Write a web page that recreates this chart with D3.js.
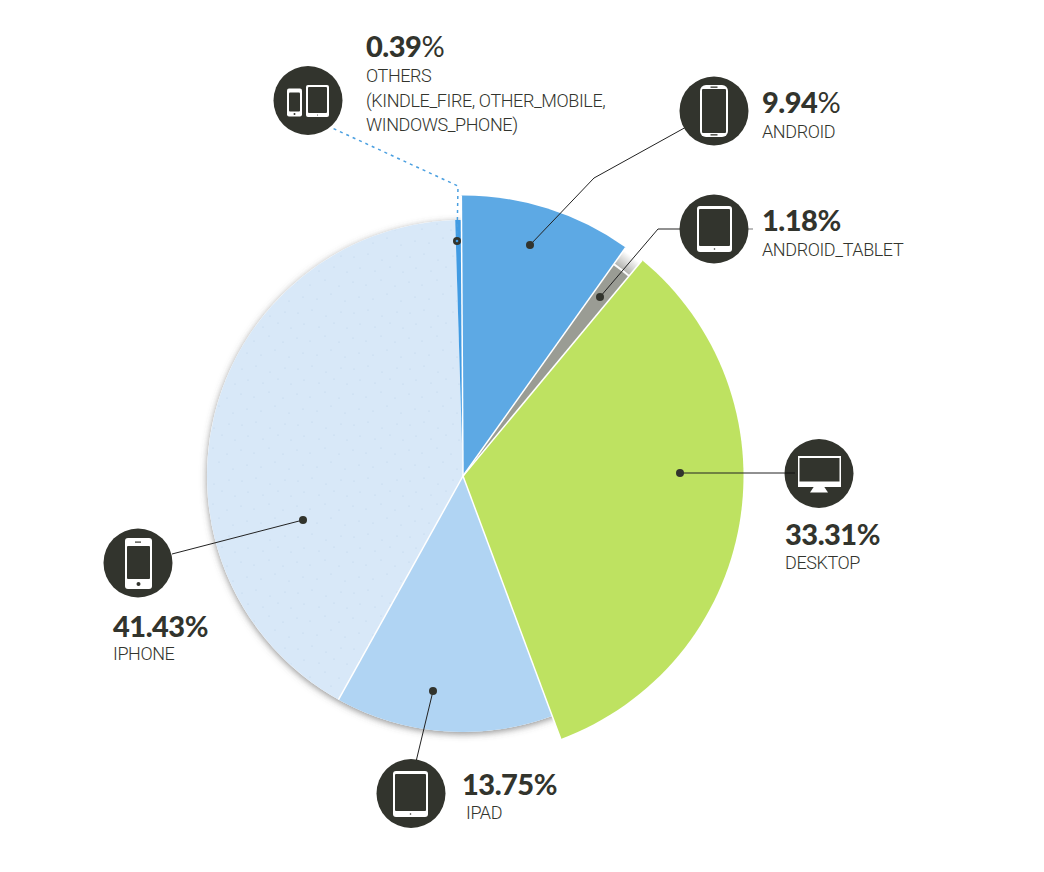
<!DOCTYPE html>
<html>
<head>
<meta charset="utf-8">
<script src="https://cdnjs.cloudflare.com/ajax/libs/d3/7.8.5/d3.min.js"></script>
<style>
  html, body { margin: 0; background: #fff; }
  svg { display: block; }
  .pct { font-family: Lato, sans-serif; font-weight: 900; font-size: 29px; fill: #32342d; letter-spacing: -0.5px; }
  .name { font-family: Roboto, sans-serif; font-weight: 300; font-size: 18px; fill: #32342d; letter-spacing: -0.4px; }
</style>
</head>
<body>
<svg id="chart"></svg>
<script>
const width = 1044, height = 872;

// Slices in drawing order, clockwise from 12 o'clock
const devices = ["ANDROID", "ANDROID_TABLET", "DESKTOP", "IPAD", "IPHONE", "OTHERS"];
const shares = [9.94, 1.18, 33.31, 13.75, 41.43, 0.39];
const pctValues = ["9.94", "1.18", "33.31", "13.75", "41.43", "0.39"];
const otherNames = ["(KINDLE_FIRE, OTHER_MOBILE,", "WINDOWS_PHONE)"];

const sliceColors = ["#5da9e4", "#9a9c94", "#bee261", "#b0d4f3", "#d8e8f8", "#419be3"];
const exploded = ["ANDROID", "DESKTOP"];
const thinPercent = ["ANDROID", "OTHERS"];

const dark = "#32342d";
const cx = 463, cy = 476;
const rBase = 256, rBig = 280.5;
const rotation = -0.006; // the pie sits a hair anticlockwise of 12 o'clock

// Callout layout: dot, elbow path, icon circle, text block
const callouts = {
  ANDROID:        { dot: [530, 245], via: [[594, 178], [697, 121]], icon: [714, 111], text: [762, 113], align: 29 },
  ANDROID_TABLET: { dot: [600, 297], via: [[658, 229], [680, 229]], icon: [714, 229], text: [762, 231], align: 29 },
  DESKTOP:        { dot: [680, 473], via: [[795, 473]],             icon: [819, 473.5], text: [785, 545], align: 28 },
  IPAD:           { dot: [433, 691], via: [[414, 770]],             icon: [411, 793.5], text: [462, 795], align: 28 },
  IPHONE:         { dot: [303, 520], via: [[172, 554]],             icon: [138, 563], text: [113, 637], align: 27 },
  OTHERS:         { dot: [457, 241], via: [[458, 186], [330, 127]], icon: [308, 100.5], text: [366, 57], align: 29 }
};

// scattered dots of the iphone texture, one tile's worth
const speckleDots = [[3, 5], [17, 2], [31, 8], [46, 4], [9, 16], [24, 19], [39, 15], [52, 20],
                     [2, 30], [15, 33], [30, 28], [44, 34], [8, 45], [22, 47], [36, 42], [50, 49]];

const svg = d3.select("#chart")
    .attr("width", width)
    .attr("height", height);

const defs = svg.append("defs");

const shadow = defs.append("filter")
    .attr("id", "soft-shadow")
    .attr("x", "-10%").attr("y", "-10%")
    .attr("width", "120%").attr("height", "120%");
shadow.append("feDropShadow")
    .attr("dx", 0).attr("dy", 2)
    .attr("stdDeviation", 3.5)
    .attr("flood-color", "#555")
    .attr("flood-opacity", 0.65);

const speckle = defs.append("pattern")
    .attr("id", "speckle")
    .attr("width", 56).attr("height", 56)
    .attr("patternUnits", "userSpaceOnUse");
speckle.selectAll("circle")
    .data(speckleDots)
    .enter().append("circle")
    .attr("cx", d => d[0]).attr("cy", d => d[1])
    .attr("r", 0.6)
    .attr("fill", "#bcd2e8");

// the fading tile beyond the tablet slice
const fade = defs.append("radialGradient")
    .attr("id", "tablet-fade")
    .attr("gradientUnits", "userSpaceOnUse")
    .attr("cx", 0).attr("cy", 0).attr("r", 277);
fade.append("stop").attr("offset", 261 / 277).attr("stop-color", "#b4b4b0");
fade.append("stop").attr("offset", 1).attr("stop-color", "#fff");

const pie = d3.pie().sort(null).value(d => d.share)
    .startAngle(rotation).endAngle(2 * Math.PI + rotation);
const rows = devices.map((name, i) => ({ name, share: shares[i], color: sliceColors[i] }));
const arcs = pie(rows);

const arc = d3.arc().innerRadius(0);
const radiusOf = d => d.data.name === "ANDROID_TABLET" ? rBase + 3 : exploded.includes(d.data.name) ? rBig : rBase;

const pieG = svg.append("g").attr("transform", `translate(${cx},${cy})`);

// the shadow only shows round the slices that are not pulled out
pieG.append("circle")
    .attr("r", rBase)
    .attr("fill", "#fff")
    .attr("filter", "url(#soft-shadow)");

const tablet = arcs.find(d => d.data.name === "ANDROID_TABLET");
pieG.append("path")
    .attr("d", d3.arc().innerRadius(261).outerRadius(277)(tablet))
    .attr("fill", "url(#tablet-fade)");

pieG.selectAll(".slice")
    .data(arcs)
    .enter().append("path")
    .attr("class", "slice")
    .attr("d", d => arc.outerRadius(radiusOf(d))(d))
    .attr("fill", d => d.data.color);

pieG.selectAll(".slice-speckle")
    .data(arcs.filter(d => d.data.name === "IPHONE"))
    .enter().append("path")
    .attr("class", "slice-speckle")
    .attr("d", d => d3.arc().innerRadius(0).outerRadius(rBase - 1)(d))
    .attr("fill", "url(#speckle)");

// white seams along the slice edges only, each as long as the longer neighbour
// no seam between iphone and others
const seamLength = d => {
  const i = arcs.indexOf(d);
  return Math.max(radiusOf(d), radiusOf(arcs[(i + arcs.length - 1) % arcs.length]));
};
pieG.selectAll(".seam")
    .data(arcs.filter(d => d.data.name !== "OTHERS"))
    .enter().append("line")
    .attr("class", "seam")
    .attr("x1", 0).attr("y1", 0)
    .attr("x2", d => seamLength(d) * Math.sin(d.startAngle))
    .attr("y2", d => -seamLength(d) * Math.cos(d.startAngle))
    .attr("stroke", "#fff")
    .attr("stroke-width", 1.5);

// leader lines go under the icons
const line = d3.line();

function drawLeader(name) {
  const c = callouts[name];
  const isOthers = name === "OTHERS";
  svg.append("path")
      .attr("d", line([c.dot, ...c.via]))
      .attr("fill", "none")
      .attr("stroke", isOthers ? "#4a9fe0" : "#222")
      .attr("stroke-width", isOthers ? 1.5 : 1)
      .attr("stroke-dasharray", isOthers ? "3,4" : null);
  svg.append("circle")
      .attr("cx", c.dot[0]).attr("cy", c.dot[1])
      .attr("r", 4)
      .attr("fill", dark);
  if (isOthers) {
    svg.append("circle")
        .attr("cx", c.dot[0]).attr("cy", c.dot[1])
        .attr("r", 1.3)
        .attr("fill", "#419be3");
  }
}

// tablet leader has a little stub that pokes out behind its icon
svg.append("line")
    .attr("x1", 680).attr("x2", 753)
    .attr("y1", 229).attr("y2", 229)
    .attr("stroke", "#777")
    .attr("stroke-width", 1);

devices.forEach(drawLeader);

// Icons
function phone(g, x, y, w, h, rx, topH, botH, button) {
  g.append("rect").attr("x", x).attr("y", y).attr("width", w).attr("height", h)
      .attr("rx", rx).attr("fill", "#fff");
  g.append("rect").attr("x", x + 2).attr("y", y + topH).attr("width", w - 4).attr("height", h - topH - botH)
      .attr("rx", 1).attr("fill", dark);
  if (button) {
    g.append("circle").attr("cx", x + w / 2).attr("cy", y + h - botH / 2).attr("r", button).attr("fill", dark);
  }
}

const iconDrawers = {
  ANDROID(g) {
    phone(g, -14, -26, 28, 52, 6, 4, 4, 0);
    g.append("rect").attr("x", -3.5).attr("y", -24.5).attr("width", 7).attr("height", 1.3).attr("fill", dark);
    g.append("rect").attr("x", -3.5).attr("y", 23.2).attr("width", 7).attr("height", 1.3).attr("fill", dark);
  },
  ANDROID_TABLET(g) { phone(g, -17, -23, 35, 46, 3, 3, 6, 0.8); },
  IPAD(g) { phone(g, -18, -22.5, 35, 46, 3, 3, 6, 0.8); },
  IPHONE(g) {
    phone(g, -13, -25, 27, 51, 3, 8, 10, 2);
    g.append("rect").attr("x", -3).attr("y", -21.5).attr("width", 6).attr("height", 1.2).attr("fill", dark);
  },
  DESKTOP(g) {
    g.append("path").attr("d", "M-5,13 L5,13 L9,19 L-9,19 Z").attr("fill", "#fff");
    g.append("rect").attr("x", -21).attr("y", -17.5).attr("width", 43).attr("height", 31).attr("fill", "#fff");
    g.append("rect").attr("x", -19.5).attr("y", -15.5).attr("width", 40).attr("height", 23.5).attr("fill", dark);
  },
  OTHERS(g) {
    phone(g, -21, -12, 15, 28, 2, 4, 5, 1);
    phone(g, -2, -15.5, 23, 32, 2, 2, 4, 0.5);
  }
};

devices.forEach(name => {
  const c = callouts[name];
  const g = svg.append("g").attr("transform", `translate(${c.icon[0]},${c.icon[1]})`);
  g.append("circle").attr("r", 34.5).attr("fill", dark);
  iconDrawers[name](g);
});

// the desktop leader runs on top of its icon
svg.append("line")
    .attr("x1", 785).attr("x2", 795)
    .attr("y1", 473).attr("y2", 473)
    .attr("stroke", "#111")
    .attr("stroke-width", 1);

// Labels
devices.forEach((name, i) => {
  const c = callouts[name];
  const pct = svg.append("text").attr("class", "pct")
      .attr("x", c.text[0]).attr("y", c.text[1])
      .text(pctValues[i]);
  pct.append("tspan")
      .style("font-weight", thinPercent.includes(name) ? 400 : 700)
      .text("%");
  svg.append("text").attr("class", "name")
      .attr("x", name === "IPAD" ? c.text[0] + 4 : c.text[0]).attr("y", c.text[1] + c.align - 4)
      .text(name);
  if (name === "OTHERS") {
    otherNames.forEach((t, j) => {
      svg.append("text").attr("class", "name")
          .attr("x", c.text[0]).attr("y", c.text[1] + c.align - 4 + (j + 1) * 24.5)
          .text(t);
    });
  }
});
</script>
</body>
</html>
